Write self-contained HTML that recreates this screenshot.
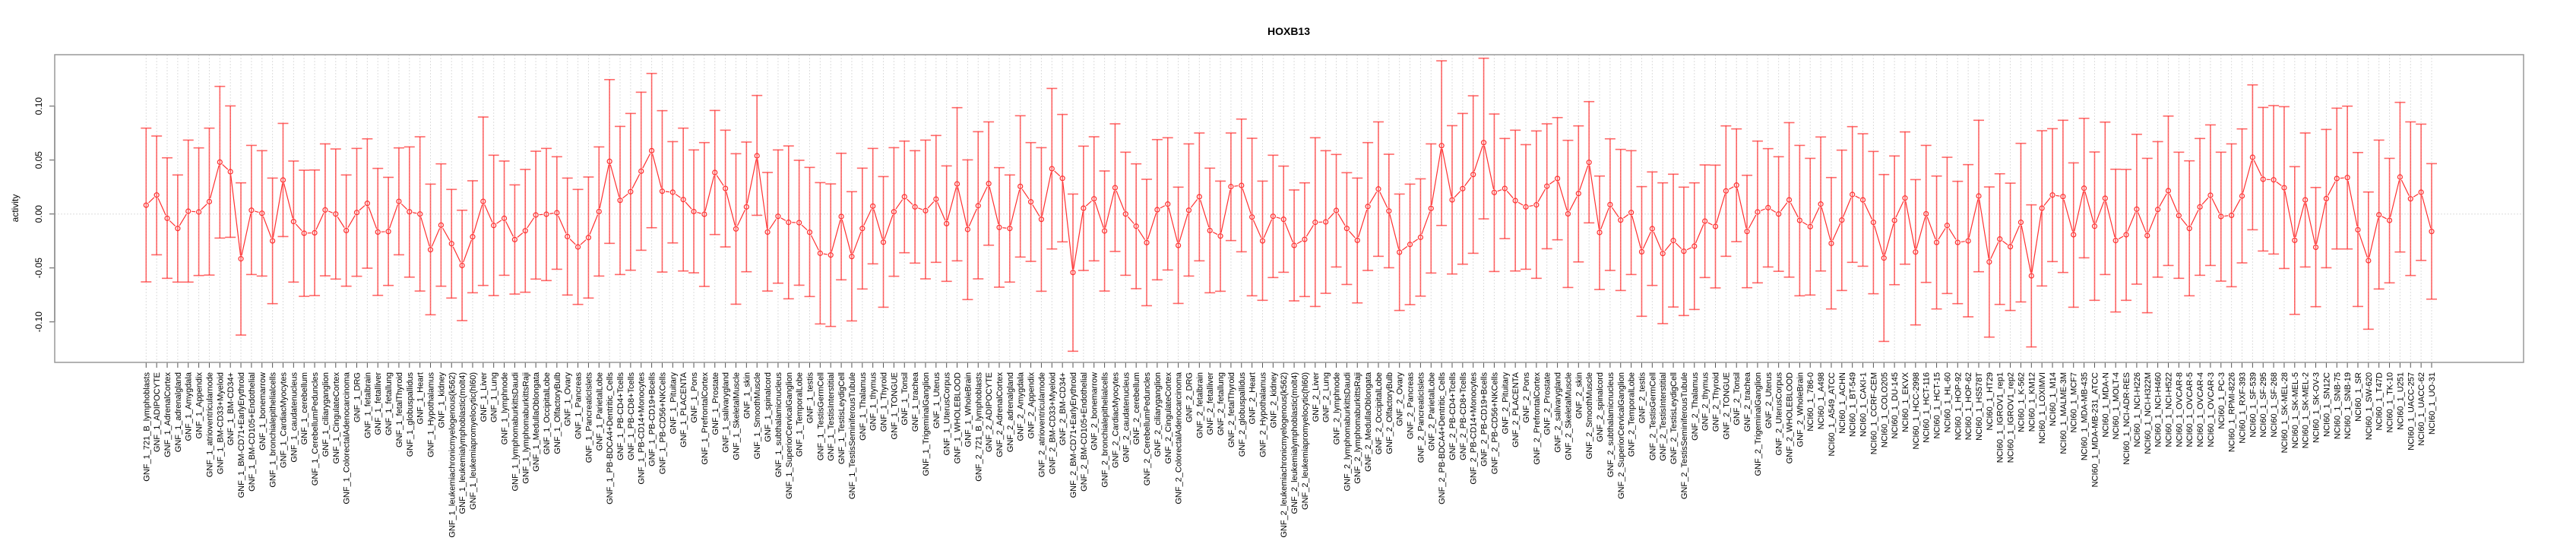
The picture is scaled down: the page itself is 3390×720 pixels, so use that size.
<!DOCTYPE html>
<html><head><meta charset="utf-8"><title>HOXB13</title>
<style>html,body{margin:0;padding:0;background:#fff}svg{display:block;font-family:"Liberation Sans",sans-serif}</style>
</head><body>
<svg id="chart" width="3390" height="720" viewBox="0 0 3390 720" xmlns="http://www.w3.org/2000/svg">
<text x="1696" y="46" text-anchor="middle" font-size="14" font-weight="bold">HOXB13</text>
<text transform="translate(24,274) rotate(-90)" text-anchor="middle" font-size="12">activity</text>
<g id="grid"></g><g id="bars"></g><g id="line"></g><g id="axes"></g>
<rect x="72" y="72" width="3249" height="405" fill="none" stroke="#999" stroke-width="1.5"/>
</svg>
<script>
const tissues = ["721_B_lymphoblasts","ADIPOCYTE","AdrenalCortex","adrenalgland","Amygdala","Appendix","atrioventricularnode","BM-CD33+Myeloid","BM-CD34+","BM-CD71+EarlyErythroid","BM-CD105+Endothelial","bonemarrow","bronchialepithelialcells","CardiacMyocytes","caudatenucleus","cerebellum","CerebellumPeduncles","ciliaryganglion","CingulateCortex","ColorectalAdenocarcinoma","DRG","fetalbrain","fetalliver","fetallung","fetalThyroid","globuspallidus","Heart","Hypothalamus","kidney","leukemiachronicmyelogenous(k562)","leukemialymphoblastic(molt4)","leukemiapromyelocytic(hl60)","Liver","Lung","lymphnode","lymphomaburkittsDaudi","lymphomaburkittsRaji","MedullaOblongata","OccipitalLobe","OlfactoryBulb","Ovary","Pancreas","PancreaticIslets","ParietalLobe","PB-BDCA4+Dentritic_Cells","PB-CD4+Tcells","PB-CD8+Tcells","PB-CD14+Monocytes","PB-CD19+Bcells","PB-CD56+NKCells","Pituitary","PLACENTA","Pons","PrefrontalCortex","Prostate","salivarygland","SkeletalMuscle","skin","SmoothMuscle","spinalcord","subthalamicnucleus","SuperiorCervicalGanglion","TemporalLobe","testis","TestisGermCell","TestisInterstitial","TestisLeydigCell","TestisSeminiferousTubule","Thalamus","thymus","Thyroid","TONGUE","Tonsil","trachea","TrigeminalGanglion","Uterus","UterusCorpus","WHOLEBLOOD","WholeBrain"];
const nciLines = ["786-0","A498","A549_ATCC","ACHN","BT-549","CAKI-1","CCRF-CEM","COLO205","DU-145","EKVX","HCC-2998","HCT-116","HCT-15","HL-60","HOP-92","HOP-62","HS578T","HT29","IGROV1_rep1","IGROV1_rep2","K-562","KM12","LOXIMVI","M14","MALME-3M","MCF7","MDA-MB-435","MDA-MB-231_ATCC","MDA-N","MOLT-4","NCI-ADR-RES","NCI-H226","NCI-H322M","NCI-H460","NCI-H522","OVCAR-8","OVCAR-5","OVCAR-4","OVCAR-3","PC-3","RPMI-8226","RXF-393","SF-539","SF-295","SF-268","SK-MEL-28","SK-MEL-5","SK-MEL-2","SK-OV-3","SN12C","SNB-75","SNB-19","SR","SW-620","T47D","TK-10","U251","UACC-257","UACC-62","UO-31"];
const categories = tissues.map(t=>"GNF_1_"+t).concat(tissues.map(t=>"GNF_2_"+t)).concat(nciLines.map(t=>"NCI60_1_"+t));
const means = [.0082,.0176,-.0040,-.0134,.0026,.0019,.0115,.0481,.0392,-.0415,.0035,.0007,-.0249,.0315,-.0070,-.0178,-.0174,.0038,0,-.0153,.0014,.0099,-.0167,-.0162,.0117,.0021,0,-.0331,-.0103,-.0275,-.0477,-.0211,.0117,-.0106,-.0040,-.0237,
-.0155,-.0009,-.0002,.0012,-.0209,-.0305,-.0218,.0023,.0488,.0127,.0207,.0397,.0587,.0211,.0202,.0134,.0023,-.0002,.0385,.0237,-.0138,.0066,.0540,-.0167,-.0021,-.0077,-.0080,-.0169,-.0364,-.0380,-.0023,-.0394,-.0134,.0073,-.0261,.0021,.0160,
.0066,.0031,.0138,-.0089,.0279,-.0143,.0077,.0282,-.0124,-.0134,.0256,.0113,-.0049,.0420,.0331,-.0542,.0054,.0141,-.0157,.0244,0,-.0113,-.0265,.0040,.0092,-.0291,.0035,.0160,-.0153,-.0204,.0254,.0265,-.0028,-.0249,-.0021,-.0049,-.0291,
-.0235,-.0077,-.0073,.0033,-.0134,-.0244,.0070,.0232,.0028,-.0354,-.0282,-.0216,.0052,.0634,.0131,.0235,.0366,.0662,.0200,.0237,.0124,.0066,.0085,.0258,.0329,.0002,.0190,.0479,-.0171,.0087,-.0056,.0014,-.0350,-.0136,-.0366,-.0246,-.0345,
-.0298,-.0066,-.0115,.0214,.0268,-.0162,.0019,.0059,0,.0131,-.0059,-.0117,.0092,-.0272,-.0056,.0181,.0131,-.0077,-.0408,-.0059,.0148,-.0352,.0002,-.0263,-.0106,-.0263,-.0249,.0167,-.0444,-.0232,-.0303,-.0077,-.0573,.0054,.0176,.0162,-.0192,
.0239,-.0113,.0146,-.0246,-.0192,.0045,-.0200,.0042,.0216,-.0014,-.0134,.0066,.0174,-.0023,-.0012,.0167,.0526,.0322,.0317,.0244,-.0244,.0131,-.0308,.0143,.0329,.0338,-.0146,-.0432,-.0007,-.0059,.0343,.0141,.0202,-.0162];
const upper = [.0796,.0723,.0521,.0362,.0685,.0613,.0796,.1183,.1002,.0289,.0636,.0587,.0333,.0840,.0491,.0406,.0408,.0650,.0603,.0362,.0608,.0697,.0423,.0340,.0613,.0622,.0716,.0277,.0465,.0228,.0035,.0308,.0899,.0545,.0491,.0270,
.0413,.0582,.0608,.0531,.0333,.0228,.0343,.0622,.1246,.0812,.0932,.1129,.1303,.0958,.0671,.0796,.0594,.0662,.0960,.0777,.0559,.0667,.1099,.0385,.0594,.0631,.0498,.0432,.0291,.0279,.0563,.0207,.0425,.0608,.0347,.0615,.0676,
.0587,.0685,.0728,.0446,.0986,.0502,.0763,.0854,.0430,.0362,.0911,.0662,.0615,.1164,.0923,.0185,.0629,.0716,.0399,.0836,.0573,.0465,.0322,.0690,.0707,.0249,.0650,.0751,.0425,.0305,.0751,.0880,.0702,.0305,.0545,.0444,.0223,
.0289,.0707,.0587,.0552,.0383,.0333,.0662,.0854,.0554,.0185,.0277,.0326,.0650,.1420,.0819,.0932,.1096,.1444,.0927,.0700,.0777,.0643,.0770,.0836,.0894,.0683,.0817,.1042,.0352,.0697,.0599,.0587,.0254,.0390,.0289,.0369,.0249,
.0289,.0455,.0453,.0817,.0789,.0359,.0676,.0606,.0531,.0847,.0636,.0516,.0714,.0338,.0592,.0810,.0744,.0580,.0366,.0538,.0761,.0319,.0636,.0352,.0526,.0303,.0458,.0869,.0251,.0373,.0286,.0655,.0085,.0772,.0791,.0869,.0474,
.0887,.0575,.0852,.0415,.0413,.0739,.0516,.0671,.0908,.0573,.0493,.0700,.0826,.0573,.0650,.0789,.1197,.0988,.1005,.0995,.0439,.0751,.0246,.0784,.0981,.1000,.0570,.0204,.0685,.0516,.1035,.0854,.0833,.0467];
const lower = [-.0629,-.0378,-.0596,-.0631,-.0631,-.0570,-.0566,-.0223,-.0216,-.1122,-.0561,-.0575,-.0831,-.0209,-.0631,-.0763,-.0756,-.0573,-.0603,-.0669,-.0577,-.0502,-.0754,-.0662,-.0378,-.0585,-.0714,-.0934,-.0669,-.0779,-.0988,-.0730,-.0662,-.0756,-.0568,-.0742,
-.0725,-.0603,-.0617,-.0512,-.0751,-.0838,-.0779,-.0575,-.0272,-.0561,-.0521,-.0336,-.0127,-.0538,-.0268,-.0528,-.0545,-.0671,-.0190,-.0305,-.0836,-.0535,-.0012,-.0714,-.0641,-.0786,-.0660,-.0765,-.1019,-.1042,-.0610,-.0991,-.0695,-.0462,-.0864,-.0577,-.0359,
-.0455,-.0601,-.0448,-.0624,-.0434,-.0793,-.0601,-.0289,-.0678,-.0631,-.0399,-.0439,-.0716,-.0324,-.0258,-.1272,-.0523,-.0434,-.0714,-.0347,-.0568,-.0692,-.0850,-.0610,-.0519,-.0829,-.0575,-.0434,-.0730,-.0716,-.0246,-.0350,-.0758,-.0800,-.0589,-.0540,-.0805,
-.0765,-.0857,-.0735,-.0491,-.0653,-.0824,-.0523,-.0392,-.0498,-.0894,-.0840,-.0761,-.0547,-.0106,-.0556,-.0465,-.0364,-.0045,-.0533,-.0228,-.0528,-.0512,-.0596,-.0322,-.0239,-.0681,-.0444,-.0082,-.0700,-.0523,-.0709,-.0561,-.0948,-.0662,-.1016,-.0862,-.0941,
-.0885,-.0589,-.0685,-.0392,-.0256,-.0683,-.0638,-.0491,-.0531,-.0585,-.0758,-.0751,-.0528,-.0880,-.0709,-.0448,-.0484,-.0739,-.1181,-.0655,-.0465,-.1028,-.0634,-.0880,-.0737,-.0831,-.0953,-.0535,-.1141,-.0838,-.0894,-.0815,-.1232,-.0667,-.0441,-.0542,-.0864,
-.0406,-.0800,-.0561,-.0908,-.0800,-.0650,-.0915,-.0585,-.0477,-.0596,-.0758,-.0568,-.0477,-.0622,-.0674,-.0453,-.0146,-.0343,-.0371,-.0505,-.0930,-.0491,-.0859,-.0498,-.0324,-.0324,-.0857,-.1068,-.0695,-.0638,-.0352,-.0570,-.0430,-.0789];
const yTicks = [-0.10,-0.05,0.00,0.05,0.10];
const yTickLabels = ["-0.10","-0.05","0.00","0.05","0.10"];

const NS="http://www.w3.org/2000/svg";
const X0=192.3, X1=3200, Y0=281.7, YS=1420;
const xScale=i=>X0+i*(X1-X0)/(categories.length-1);
const yScale=v=>Y0-v*YS;
function mk(tag,attrs,parent){const e=document.createElementNS(NS,tag);for(const k in attrs)e.setAttribute(k,attrs[k]);parent.appendChild(e);return e;}
const grid=document.getElementById('grid'),bars=document.getElementById('bars'),line=document.getElementById('line'),axes=document.getElementById('axes');

const zl=mk('line',{x1:72,x2:3321,y1:yScale(0),y2:yScale(0),stroke:"#ddd","stroke-dasharray":"2,2"},grid);



categories.forEach((c,i)=>{
  const x=xScale(i);
  const g=mk('line',{x1:x,x2:x,y1:72,y2:477,stroke:"#ddd","stroke-dasharray":"2,2"},grid);
  
  
  const t=mk('line',{x1:x,x2:x,y1:477,y2:484,stroke:"#555"},axes);
  
  
  const lb=mk('text',{transform:`translate(${x+4},490) rotate(-90)`,"text-anchor":"end","font-size":"11",fill:"#000"},axes);
  lb.textContent=c;
  
  
  const yt=yScale(upper[i]),yb=yScale(lower[i]);
  const eb=mk('g',{stroke:"rgba(255,40,40,0.7)","stroke-width":"1.6"},bars);
  
  
  mk('line',{x1:x,x2:x,y1:yt,y2:yb},eb);
  mk('line',{x1:x-7,x2:x+7,y1:yt,y2:yt},eb);
  mk('line',{x1:x-7,x2:x+7,y1:yb,y2:yb},eb);
});
for(let i=0;i<categories.length-1;i++){
  const xa=xScale(i),ya=yScale(means[i]),xb=xScale(i+1),yb=yScale(means[i+1]);
  const dx=xb-xa,dy=yb-ya,L=Math.hypot(dx,dy),r=4.5;
  if(L>2*r){
    const s=mk('line',{x1:xa+dx*r/L,y1:ya+dy*r/L,x2:xb-dx*r/L,y2:yb-dy*r/L,stroke:"#ff3030","stroke-width":"1.2"},line);
    
    
  }
}
means.forEach((m,i)=>{
  const p=mk('circle',{cx:xScale(i),cy:yScale(m),r:3,fill:"none",stroke:"#ff3030","stroke-width":"1.2"},line);
  
  
});
yTicks.forEach((v,k)=>{
  const y=yScale(v);
  const t=mk('line',{x1:65,x2:72,y1:y,y2:y,stroke:"#555"},axes);
  
  
  const lb=mk('text',{transform:`translate(55,${y}) rotate(-90)`,"text-anchor":"middle","font-size":"12"},axes);
  lb.textContent=yTickLabels[k];
  
  
});
const ya=mk('line',{x1:72,x2:72,y1:yScale(0.10),y2:yScale(-0.10),stroke:"#555","stroke-width":"1.5"},axes);


</script>
</body></html>
